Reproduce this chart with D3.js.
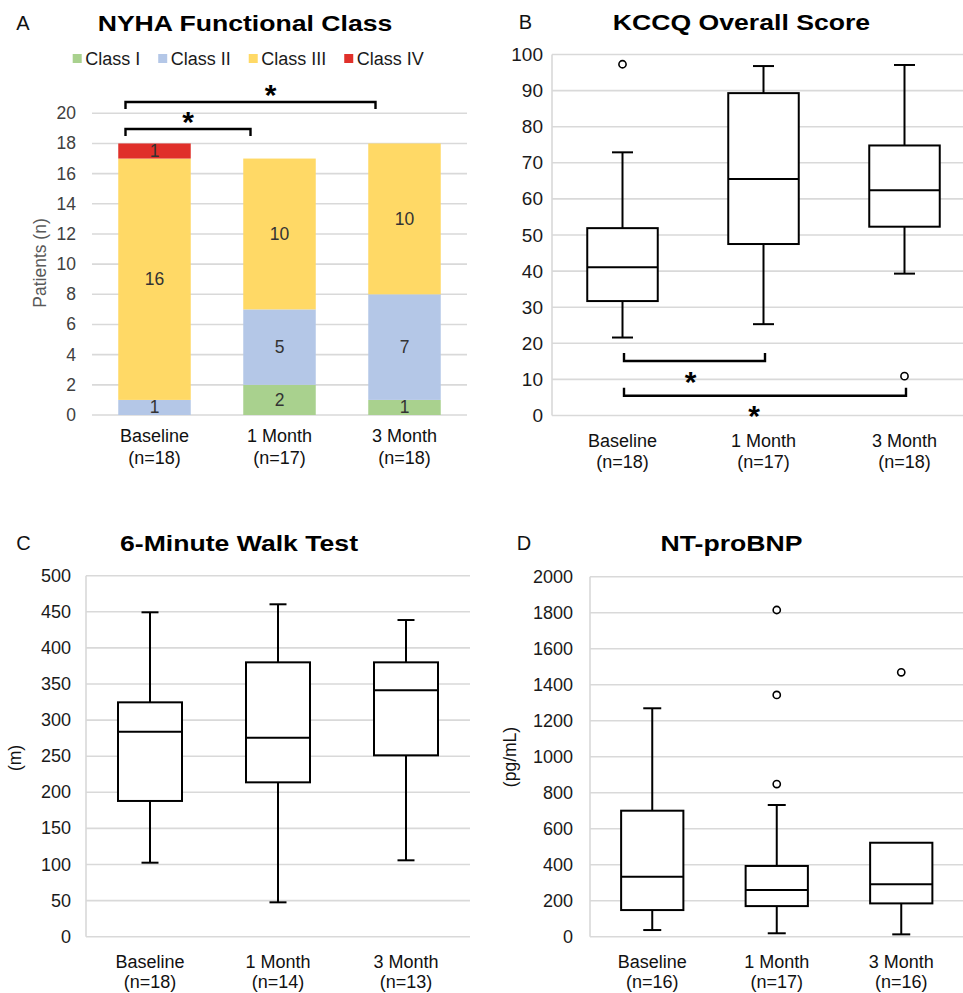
<!DOCTYPE html>
<html>
<head>
<meta charset="utf-8">
<script src="https://cdn.jsdelivr.net/npm/d3@7"></script>
<style>
  body { margin: 0; background: #fff; }
  svg { display: block; font-family: "Liberation Sans", Arial, sans-serif; }
</style>
</head>
<body>
<div id="root"></div>
<script>
// ---- data ----
const timepoints = ["Baseline", "1 Month", "3 Month"];

const nyhaClasses = ["Class I", "Class II", "Class III", "Class IV"];
const classI = [0, 2, 1];
const classII = [1, 5, 7];
const classIII = [16, 10, 10];
const classIV = [1, 0, 0];
const nyhaN = [18, 17, 18];
const nyhaTicks = [0, 2, 4, 6, 8, 10, 12, 14, 16, 18, 20];
const nyhaSig = [[0, 2], [0, 1]];

// [min, q1, median, q3, max]
const kccqN = [18, 17, 18];
const kccqBoxes = [[21.6, 31.7, 41.1, 51.9, 72.9], [25.3, 47.5, 65.5, 89.3, 96.8], [39.3, 52.3, 62.4, 74.8, 97.1]];
const kccqOutliers = [[97.3], [], [10.9]];
const kccqTicks = [0, 10, 20, 30, 40, 50, 60, 70, 80, 90, 100];
const kccqSig = [[0, 1], [0, 2]];

const walkN = [18, 14, 13];
const walkBoxes = [[102.5, 188, 284, 324.6, 449.3], [47.6, 213.8, 275.6, 380, 460.4], [105.8, 251.2, 341.3, 380, 438.6]];
const walkOutliers = [[], [], []];
const walkTicks = [0, 50, 100, 150, 200, 250, 300, 350, 400, 450, 500];

const bnpN = [16, 17, 16];
const bnpBoxes = [[37, 148, 333, 700, 1269], [19, 170, 259, 393, 731.7], [13, 185, 291, 522, 522]];
const bnpOutliers = [[], [848, 1343, 1815], [1469]];
const bnpTicks = [0, 200, 400, 600, 800, 1000, 1200, 1400, 1600, 1800, 2000];

// ---- layout / style ----
const W = 963, H = 993;
const COLORS = {
  classes: ["#a9d18e", "#b4c7e7", "#ffd966", "#e0302a"],
  grid: "#d9d9d9",
  axisText: "#1a1a1a",
  barText: "#333"
};
const TITLE_STRETCH = 1.21;

const svg = d3.select("#root").append("svg").attr("width", W).attr("height", H);

function panelHeader(g, letter, lx, ly, title, tx, ty) {
  g.append("text").text(letter).attr("x", lx).attr("y", ly)
    .attr("text-anchor", "middle").style("font-size", "20px").style("fill", "#111");
  g.append("text").text(title)
    .attr("transform", `translate(${tx},${ty}) scale(${TITLE_STRETCH},1)`)
    .attr("text-anchor", "middle").style("font-size", "22px").style("font-weight", "bold").style("fill", "#000");
}

function bandScale(p, inner) {
  // outer padding = inner/2 keeps the step equal to width / n
  return d3.scaleBand().domain(timepoints).range([p.left, p.right])
    .paddingInner(inner).paddingOuter(inner / 2);
}

function gridAndAxis(g, p, y, ticks) {
  g.append("g").selectAll("line").data(ticks).enter().append("line")
    .attr("x1", p.left).attr("x2", p.right)
    .attr("y1", d => y(d)).attr("y2", d => y(d))
    .style("stroke", COLORS.grid).style("stroke-width", 1.6);
  if (p.axisLine) {
    g.append("line").attr("x1", p.left).attr("x2", p.left)
      .attr("y1", y(ticks[0])).attr("y2", y(ticks[ticks.length - 1]))
      .style("stroke", COLORS.grid).style("stroke-width", 1.6);
  }
  g.append("g").selectAll("text").data(ticks).enter().append("text")
    .text(d => d)
    .attr("x", p.left - p.tickGap).attr("y", d => y(d))
    .attr("text-anchor", "end").attr("dominant-baseline", "central")
    .style("font-size", p.tickSize + "px").style("fill", p.tickColor || COLORS.axisText);
}

function categoryLabels(g, p, x, y, nList) {
  const lab = g.append("g").selectAll("g").data(timepoints).enter().append("g");
  lab.append("text").text(d => d)
    .attr("x", d => x(d) + x.bandwidth() / 2).attr("y", y(0) + p.labelGap)
    .attr("text-anchor", "middle").style("font-size", "18px").style("fill", "#111");
  lab.append("text").text((d, i) => `(n=${nList[i]})`)
    .attr("x", d => x(d) + x.bandwidth() / 2).attr("y", y(0) + p.labelGap + p.lineGap)
    .attr("text-anchor", "middle").style("font-size", "18px").style("fill", "#111");
}

function yTitle(g, text, x, yc, color) {
  g.append("text").text(text)
    .attr("transform", `translate(${x},${yc}) rotate(-90)`)
    .attr("text-anchor", "middle").attr("dominant-baseline", "central")
    .style("font-size", "17.5px").style("fill", color);
}

function star(g, x, y) {
  g.append("text").text("*").attr("x", x).attr("y", y + 17)
    .attr("text-anchor", "middle").style("font-size", "30px").style("font-weight", "bold").style("fill", "#000");
}

// ---- Panel A: stacked bars ----
function panelA() {
  const p = { left: 92, right: 467, top: 113.3, bottom: 415, tickGap: 16, tickSize: 17.5, tickColor: "#404040", labelGap: 26.5, lineGap: 22 };
  const g = svg.append("g");
  panelHeader(g, "A", 23, 29.5, "NYHA Functional Class", 245, 31);

  const x = bandScale(p, 0.42);
  const y = d3.scaleLinear().domain([0, 20]).range([p.bottom, p.top]);

  gridAndAxis(g, p, y, nyhaTicks);

  const table = timepoints.map((t, i) => ({
    t, "Class I": classI[i], "Class II": classII[i], "Class III": classIII[i], "Class IV": classIV[i]
  }));
  const series = d3.stack().keys(nyhaClasses)(table);

  const layers = g.append("g").selectAll("g").data(series).enter().append("g")
    .style("fill", (d, i) => COLORS.classes[i]);
  layers.selectAll("rect").data(d => d.filter(s => s[1] > s[0])).enter().append("rect")
    .attr("x", d => x(d.data.t)).attr("width", x.bandwidth())
    .attr("y", d => y(d[1])).attr("height", d => y(d[0]) - y(d[1]));
  layers.selectAll("text").data(d => d.filter(s => s[1] > s[0])).enter().append("text")
    .text(d => d[1] - d[0])
    .attr("x", d => x(d.data.t) + x.bandwidth() / 2).attr("y", d => y((d[0] + d[1]) / 2))
    .attr("text-anchor", "middle").attr("dominant-baseline", "central")
    .style("font-size", "17.5px").style("fill", COLORS.barText);

  // legend
  const legend = g.append("g");
  let lx = 0;
  nyhaClasses.forEach((c, i) => {
    const item = legend.append("g").attr("transform", `translate(${lx},0)`);
    item.append("rect").attr("x", 0).attr("y", -10.5).attr("width", 9).attr("height", 9).style("fill", COLORS.classes[i]);
    const t = item.append("text").text(c).attr("x", 12.5).attr("y", 0)
      .style("font-size", "18px").style("fill", "#1a1a1a");
    lx += 12.5 + t.node().getComputedTextLength() + 18;
  });
  legend.attr("transform", `translate(72.7,64.5)`);

  // significance brackets (above bars)
  const bx = t => x(t) + x.bandwidth() * 0.1;
  const levels = [102, 129];
  nyhaSig.forEach(([a, b], k) => {
    const x1 = bx(timepoints[a]), x2 = bx(timepoints[b]), yy = levels[k];
    g.append("path").attr("d", `M${x1},${yy + 7}V${yy}H${x2}V${yy + 7}`)
      .style("fill", "none").style("stroke", "#000").style("stroke-width", 2.4);
    star(g, (x1 + x2) / 2 + (k === 0 ? 20 : 0), yy - 14);
  });

  yTitle(g, "Patients (n)", 40, 263, "#595959");
  categoryLabels(g, p, x, y, nyhaN);
}

// ---- box plot panels ----
function boxPanel(p, boxes, outliers, ticks, nList) {
  const g = svg.append("g");
  const x = bandScale(p, 0.5);
  const y = d3.scaleLinear().domain([0, ticks[ticks.length - 1]]).range([p.bottom, p.top]);
  gridAndAxis(g, p, y, ticks);

  const data = timepoints.map((t, i) => ({ t, s: boxes[i], out: outliers[i] }));
  const grp = g.append("g").selectAll("g").data(data).enter().append("g")
    .style("stroke", "#000").style("stroke-width", 2).style("fill", "none");
  const cx = d => x(d.t) + x.bandwidth() / 2;

  // whiskers
  grp.append("line").attr("x1", cx).attr("x2", cx).attr("y1", d => y(d.s[3])).attr("y2", d => y(d.s[4]));
  grp.append("line").attr("x1", cx).attr("x2", cx).attr("y1", d => y(d.s[1])).attr("y2", d => y(d.s[0]));
  grp.filter(d => d.s[4] > d.s[3]).append("line")
    .attr("x1", d => cx(d) - p.cap / 2).attr("x2", d => cx(d) + p.cap / 2)
    .attr("y1", d => y(d.s[4])).attr("y2", d => y(d.s[4]));
  grp.append("line")
    .attr("x1", d => cx(d) - p.cap / 2).attr("x2", d => cx(d) + p.cap / 2)
    .attr("y1", d => y(d.s[0])).attr("y2", d => y(d.s[0]));
  // box
  grp.append("rect").attr("x", d => x(d.t)).attr("width", x.bandwidth())
    .attr("y", d => y(d.s[3])).attr("height", d => y(d.s[1]) - y(d.s[3]))
    .style("fill", "#fff");
  grp.append("line").attr("x1", d => x(d.t)).attr("x2", d => x(d.t) + x.bandwidth())
    .attr("y1", d => y(d.s[2])).attr("y2", d => y(d.s[2]));
  // outliers
  grp.selectAll("circle").data(d => d.out.map(v => ({ t: d.t, v }))).enter().append("circle")
    .attr("cx", cx).attr("cy", d => y(d.v)).attr("r", 3.6)
    .style("fill", "#fff").style("stroke-width", 1.6);

  categoryLabels(g, p, x, y, nList);
  return { g, x, y };
}

function panelB() {
  const p = { left: 552, right: 975, top: 54.5, bottom: 415.5, tickGap: 9, tickSize: 19, cap: 21, labelGap: 31.5, lineGap: 21, axisLine: true };
  const { g, x, y } = boxPanel(p, kccqBoxes, kccqOutliers, kccqTicks, kccqN);
  panelHeader(g, "B", 525.5, 28.5, "KCCQ Overall Score", 741.5, 29.5);
  const levels = [361, 395.7];
  const starY = [375, 409];
  kccqSig.forEach(([a, b], k) => {
    const x1 = x(timepoints[a]) + x.bandwidth() / 2 + 1.5;
    const x2 = x(timepoints[b]) + x.bandwidth() / 2 + 1.5;
    const yy = levels[k];
    g.append("path").attr("d", `M${x1},${yy - 8}V${yy}H${x2}V${yy - 8}`)
      .style("fill", "none").style("stroke", "#000").style("stroke-width", 2.4);
    star(g, (x1 + x2) / 2 - (k === 0 ? 4 : 11), starY[k]);
  });
}

function panelC() {
  const p = { left: 86, right: 470, top: 575.7, bottom: 936.7, tickGap: 15, tickSize: 18, cap: 17, labelGap: 31, lineGap: 20, axisLine: true };
  const { g } = boxPanel(p, walkBoxes, walkOutliers, walkTicks, walkN);
  panelHeader(g, "C", 23.5, 550, "6-Minute Walk Test", 239, 550.5);
  yTitle(g, "(m)", 15, 758, "#111");
}

function panelD() {
  const p = { left: 590, right: 963.5, top: 576.7, bottom: 936.7, tickGap: 17, tickSize: 18, cap: 18, labelGap: 31, lineGap: 20, axisLine: true };
  const { g } = boxPanel(p, bnpBoxes, bnpOutliers, bnpTicks, bnpN);
  panelHeader(g, "D", 524, 549.5, "NT-proBNP", 731.5, 550.5);
  yTitle(g, "(pg/mL)", 510, 757, "#111");
}

panelA();
panelB();
panelC();
panelD();
</script>
</body>
</html>
